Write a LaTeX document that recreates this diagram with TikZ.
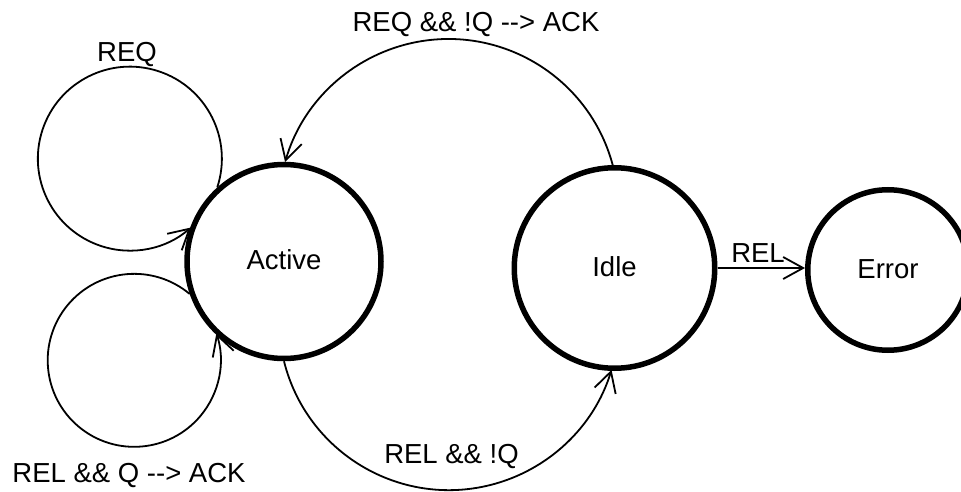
\documentclass[tikz,border=0pt]{standalone}
\usepackage{fontspec}
\setmainfont{Liberation Sans}
\usetikzlibrary{arrows.meta}
\begin{document}
\begin{tikzpicture}[x=1pt,y=1pt,
  every node/.style={font=\fontsize{27.5}{33}\selectfont, inner sep=0pt},
  state/.style={circle, draw, line width=5.5pt, minimum size=#1,
                text height=20pt, text depth=4pt},
  trans/.style={line width=1.8pt, -{Straight Barb[length=20pt,width=22pt]}},
  lbl/.style={anchor=base}]
\useasboundingbox (0,0) rectangle (961,491);

% states
\node[state=194pt]   (active) at (284,229.5) {Active};
\node[state=200.5pt] (idle)   at (614.5,223) {Idle};
\node[state=160.5pt] (error)  at (888,221)   {Error};

% self loops on Active
\draw[trans] (active.132.3) arc[start angle=-18.2, end angle=311.5, radius=92];
\draw[trans] (active.199.6) arc[start angle=50.1, end angle=378.2, radius=86.5];

% transitions between states
\draw[trans] (idle.91) arc[start angle=15, end angle=164, radius=170];
\draw[trans] (active.south) arc[start angle=194, end angle=343, radius=170];
\draw[trans] (idle.east) -- (idle.east -| error.west);

% transition labels
\node[lbl] (lreq)  at (127,429)   {REQ};
\node[lbl] (ltop)  at (476,459)   {REQ \&\& !Q -{}-> ACK};
\node[lbl] (lbot)  at (451.5,28)  {REL \&\& !Q};
\node[lbl] (lloop) at (129,9)     {REL \&\& Q -{}-> ACK};
\node[lbl] (lrel)  at (758,229)   {REL};
\end{tikzpicture}
\end{document}
